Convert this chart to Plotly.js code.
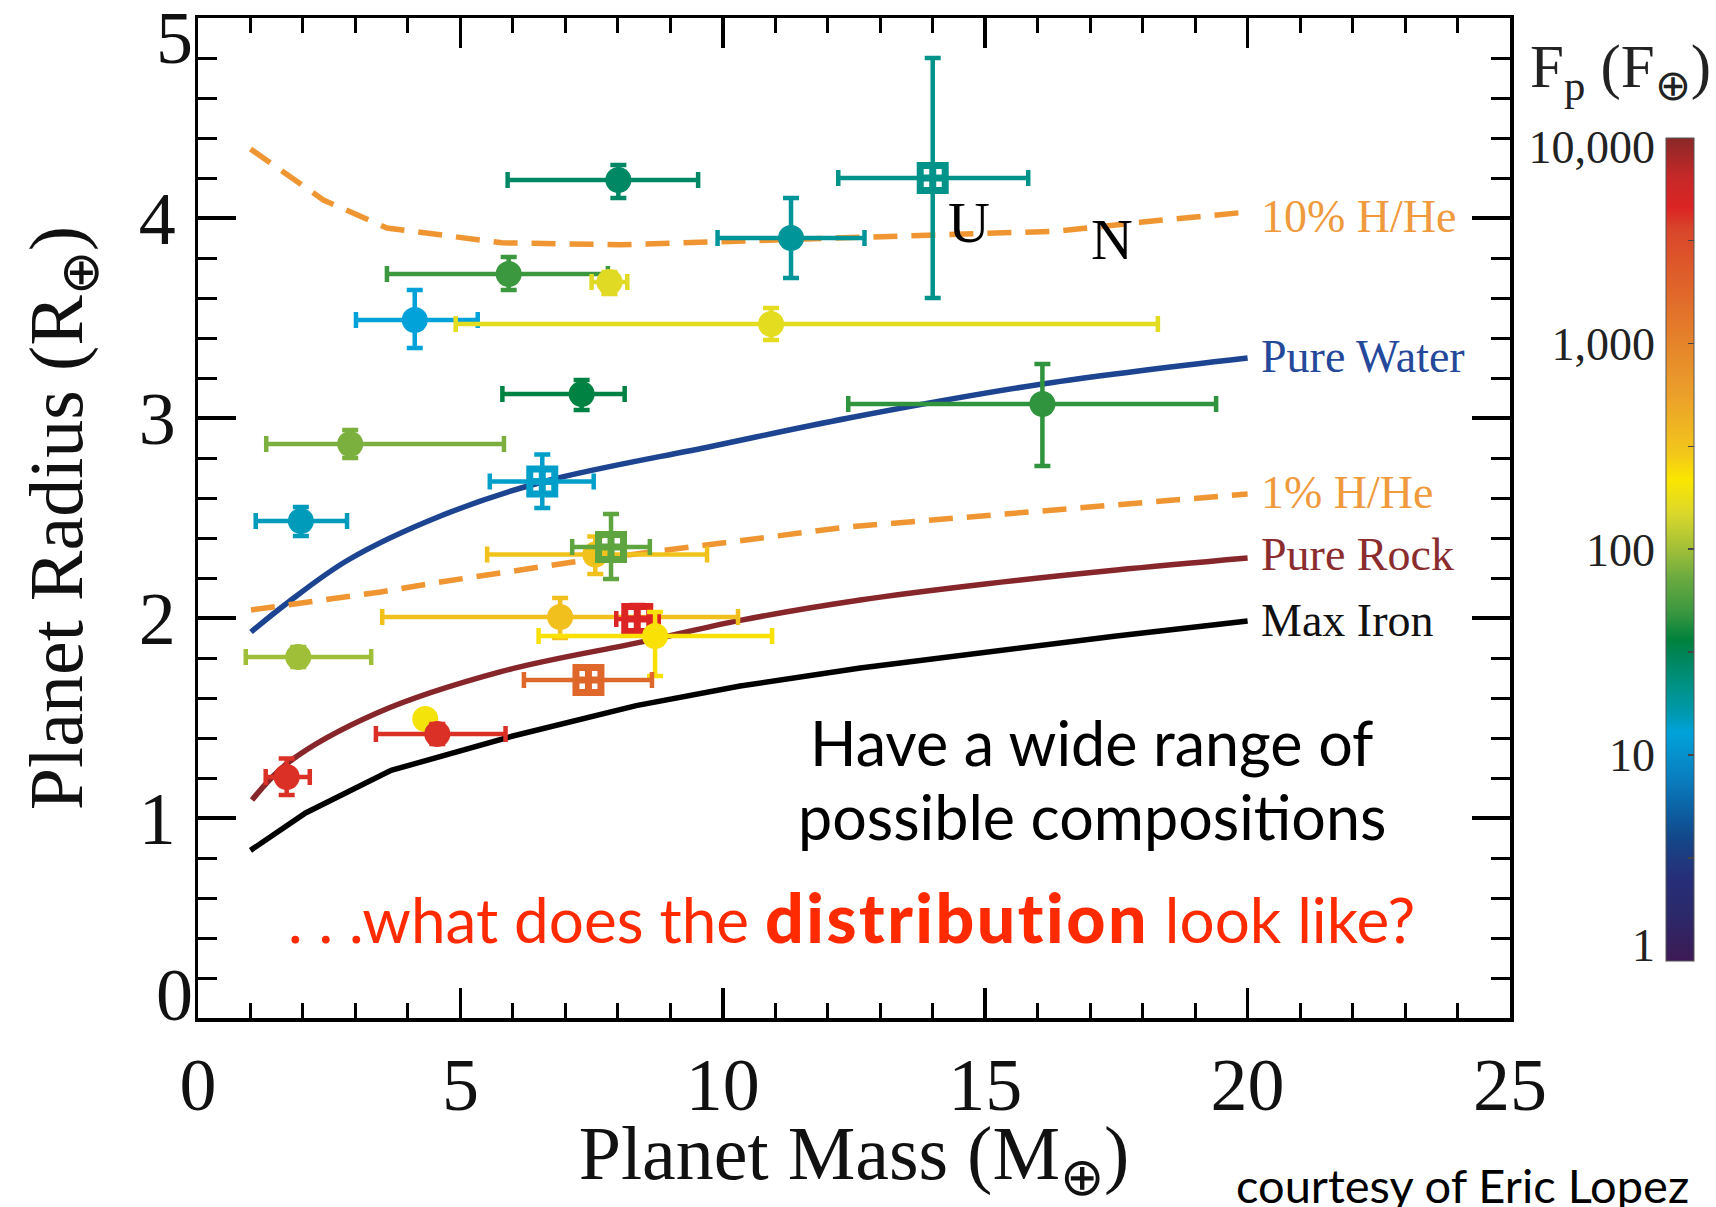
<!DOCTYPE html>
<html>
<head>
<meta charset="utf-8">
<script src="https://cdn.plot.ly/plotly-3.0.1.min.js"></script>
<style>html,body{margin:0;padding:0;background:#fff;}#chart{width:1716px;height:1207px;}</style>
</head>
<body>
<div id="chart"></div>
<script>
// ---------- DATA ----------
// planets (drawing order)
const mass        = [8.01, 14.0, 11.30, 5.92, 7.84, 4.13, 10.92, 7.31, 16.09, 2.90, 6.56, 1.96, 7.57, 7.87, 6.90, 8.37, 8.71, 1.91, 7.44, 4.33, 4.56, 1.69];
const massErrMinus= [2.11, 1.80, 1.40, 2.32, 0.34, 1.12, 6.01, 1.51, 3.70, 1.60, 1.00, 0.86, 2.06, 0.74, 3.39, 0.40, 2.22, 1.00, 1.23, 0.15, 1.17, 0.40];
const massErrPlus = [1.52, 1.82, 1.40, 1.89, 0.34, 1.20, 7.37, 0.82, 3.31, 2.93, 0.98, 0.88, 2.13, 0.74, 3.39, 0.41, 2.23, 1.39, 1.21, 0.15, 1.30, 0.44];
const radius      = [4.19, 4.20, 3.90, 3.72, 3.68, 3.49, 3.47, 3.12, 3.07, 2.87, 2.683, 2.485, 2.317, 2.355, 2.005, 1.995, 1.91, 1.805, 1.69, 1.495, 1.42, 1.205];
const radErrMinus = [0.09, 0.60, 0.20, 0.08, 0.06, 0.14, 0.08, 0.08, 0.31, 0.07, 0.133, 0.075, 0.097, 0.16, 0.105, 0.07, 0.20, 0.05, 0.06, 0.04, 0.05, 0.09];
const radErrPlus  = [0.075, 0.60, 0.20, 0.085, 0.05, 0.15, 0.08, 0.07, 0.20, 0.07, 0.134, 0.07, 0.09, 0.165, 0.095, 0.07, 0.12, 0.05, 0.06, 0.04, 0.05, 0.092];
const fluxFp      = [28, 21, 19, 50, 160, 13, 166, 35, 47, 80, 14, 15, 316, 66, 330, 4600, 230, 100, 1780, 200, 4200, 4200];
const openSquare  = [false, true, false, false, false, false, false, false, false, false, true, false, false, true, false, true, false, false, true, false, false, false];

// composition curves
const ironMass   = [1, 2.05, 3.68, 6, 8.35, 10.33, 12.62, 15, 17.5, 20];
const ironRad    = [0.838, 1.025, 1.238, 1.41, 1.562, 1.66, 1.75, 1.83, 1.91, 1.985];
const rockMass   = [1.03, 1.71, 3.41, 5.79, 8.51, 10.33, 12.62, 15, 17.5, 20];
const rockRad    = [1.09, 1.275, 1.525, 1.733, 1.883, 1.988, 2.09, 2.17, 2.24, 2.30];
const waterMass  = [1.01, 1.70, 2.86, 4.62, 6.56, 9.82, 12.4, 16.09, 20];
const waterRad   = [1.93, 2.075, 2.29, 2.51, 2.68, 2.86, 3.0, 3.17, 3.30];
const hhe1Mass   = [1.01, 3.48, 4.62, 7.15, 12.37, 16, 20];
const hhe1Rad    = [2.04, 2.13, 2.18, 2.28, 2.455, 2.535, 2.62];
const hhe10Mass  = [1.0, 2.39, 3.6, 5.79, 8.04, 9.81, 12, 14, 16.37, 18, 20];
const hhe10Rad   = [4.345, 4.09, 3.95, 3.876, 3.866, 3.88, 3.90, 3.92, 3.934, 3.98, 4.03];

const curveNames = ['10% H/He', 'Pure Water', '1% H/He', 'Pure Rock', 'Max Iron'];
const curveLabelY = [4.01, 3.31, 2.63, 2.32, 1.99];
const solarLetters = ['U', 'N'];
const solarMass = [14.70, 17.41];
const solarRad = [3.98, 3.895];

const fluxTickVals = [0, 0.5, 1, 1.5, 2, 2.5, 3, 3.5, 4];
const fluxTickText = ['', '', '10', '', '100', '', '1,000', '', ''];

// ---------- STYLE ----------
const colorscale = [
  [0.00, '#3d1a55'], [0.06, '#2b2a6c'], [0.10, '#262e78'], [0.125, '#1f3a80'],
  [0.15, '#12488a'], [0.18, '#0c5ea0'], [0.22, '#0a7dbe'], [0.25, '#0690cc'],
  [0.278, '#00a2da'], [0.30, '#0099b0'], [0.335, '#009285'], [0.37, '#00855a'],
  [0.39, '#00813c'], [0.425, '#3c983f'], [0.465, '#6aaa40'], [0.50, '#a0bf38'],
  [0.545, '#dcd82a'], [0.585, '#fbe600'], [0.615, '#f3c81a'], [0.685, '#eba12a'],
  [0.75, '#e5842b'], [0.83, '#df5f2a'], [0.89, '#d8452a'], [0.915, '#dc2424'],
  [0.95, '#c82828'], [1.00, '#8b2828']
];
function hex2rgb(h){return [parseInt(h.substr(1,2),16),parseInt(h.substr(3,2),16),parseInt(h.substr(5,2),16)];}
function scaleColor(v, cmin, cmax){
  let t = (v - cmin) / (cmax - cmin); t = Math.max(0, Math.min(1, t));
  for (let i = 1; i < colorscale.length; i++) {
    if (t <= colorscale[i][0]) {
      const a = colorscale[i-1], b = colorscale[i];
      const f = (t - a[0]) / (b[0] - a[0]);
      const ca = hex2rgb(a[1]), cb = hex2rgb(b[1]);
      return 'rgb(' + ca.map((c, k) => Math.round(c + (cb[k] - c) * f)).join(',') + ')';
    }
  }
  return colorscale[colorscale.length-1][1];
}

const serif = 'Liberation Serif, Times New Roman, serif';
const sans = 'Lato, Open Sans, sans-serif';
const orange = '#ef9633';
const DOM = 1312 / 1518;  // plot width / paper width
const CBX = (1666 - 198) / 1518; // colour bar left edge (paper)

const traces = [];
traces.push({x: hhe10Mass, y: hhe10Rad, mode: 'lines', line: {color: orange, width: 5.5, dash: '24px,14px'}});
traces.push({x: waterMass, y: waterRad, mode: 'lines', line: {color: '#1c4490', width: 5.5, shape: 'spline'}});
traces.push({x: hhe1Mass, y: hhe1Rad, mode: 'lines', line: {color: orange, width: 5.5, dash: '24px,14px'}});
traces.push({x: rockMass, y: rockRad, mode: 'lines', line: {color: '#87262a', width: 5.5, shape: 'spline'}});
traces.push({x: ironMass, y: ironRad, mode: 'lines', line: {color: '#000000', width: 5.5}});

for (let i = 0; i < mass.length; i++) {
  const lf = Math.log10(fluxFp[i]);
  const col = scaleColor(lf, 0, 4);
  const sq = openSquare[i];
  const t = {
    x: [mass[i]], y: [radius[i]], mode: 'markers',
    marker: {
      symbol: sq ? 'square-cross-open' : 'circle',
      size: sq ? 25 : 26,
      color: [lf], colorscale: colorscale, cmin: 0, cmax: 4,
      line: sq ? {width: 7, color: col} : {width: 0},
      showscale: false
    },
    error_x: {type: 'data', symmetric: false, array: [massErrPlus[i]], arrayminus: [massErrMinus[i]], color: col, thickness: 4.5, width: 8},
    error_y: {type: 'data', symmetric: false, array: [radErrPlus[i]], arrayminus: [radErrMinus[i]], color: col, thickness: 4.5, width: 8}
  };
  if (i === mass.length - 1) {
    t.marker.showscale = true;
    t.marker.colorbar = {
      x: CBX, xanchor: 'left', xpad: 0, y: 0.4688, yanchor: 'middle', ypad: 0,
      len: 823, lenmode: 'pixels', thickness: 28, thicknessmode: 'pixels',
      outlinewidth: 1, outlinecolor: '#555',
      tickvals: fluxTickVals, showticklabels: false,
      ticks: 'inside', ticklen: 6, tickwidth: 1.5, tickcolor: '#444'
    };
  }
  traces.push(t);
}

const annotations = [];
const labelColors = ['#ef9a3c', '#24489a', '#ef9a3c', '#8b2d2f', '#111111'];
for (let i = 0; i < curveNames.length; i++) {
  annotations.push({x: 20.22, y: curveLabelY[i], xref: 'x', yref: 'y', text: curveNames[i], showarrow: false,
    xanchor: 'left', yanchor: 'middle', font: {family: serif, size: 46, color: labelColors[i]}});
}
for (let i = 0; i < solarLetters.length; i++) {
  annotations.push({x: solarMass[i], y: solarRad[i], xref: 'x', yref: 'y', text: solarLetters[i], showarrow: false,
    xanchor: 'center', yanchor: 'middle', font: {family: serif, size: 58, color: '#000'}});
}
annotations.push({x: 17.03, y: 1.38, xref: 'x', yref: 'y', text: 'Have a wide range of', showarrow: false,
  xanchor: 'center', yanchor: 'middle', font: {family: sans, size: 61, color: '#000'}});
annotations.push({x: 17.03, y: 1.01, xref: 'x', yref: 'y', text: 'possible compositions', showarrow: false,
  xanchor: 'center', yanchor: 'middle', font: {family: sans, size: 61, color: '#000'}});
annotations.push({x: 12.46, y: 0.51, xref: 'x', yref: 'y',
  text: '. . .what does the <span style="font-weight:900;font-size:68px;letter-spacing:2.5px">distribution</span> look like?', showarrow: false,
  xanchor: 'center', yanchor: 'middle', font: {family: sans, size: 62, color: '#ff2a00'}});
annotations.push({x: (1691 - 198) / 1518, y: -0.167, xref: 'paper', yref: 'paper', text: 'courtesy of Eric Lopez', showarrow: false,
  xanchor: 'right', yanchor: 'middle', font: {family: sans, size: 47, color: '#000'}});
annotations.push({x: (1620 - 198) / 1518, y: 0.947, xref: 'paper', yref: 'paper', text: 'F<sub>p</sub> (F<sub>⊕</sub>)', showarrow: false,
  xanchor: 'center', yanchor: 'middle', font: {family: serif, size: 61, color: '#222'}});

const tickFont = {family: serif, size: 74, color: '#111'};
const cbFont = {family: serif, size: 46, color: '#222'};
const CBDOM = [(1018 - 961) / 1000, (1018 - 138) / 1000];
const layout = {
  width: 1716, height: 1207,
  margin: {l: 198, r: 0, t: 18, b: 189},
  paper_bgcolor: '#fff', plot_bgcolor: 'rgba(0,0,0,0)',
  showlegend: false, hovermode: false,
  xaxis: {
    domain: [0, DOM],
    range: [0, 25], showgrid: false, zeroline: false,
    showline: true, linecolor: '#000', linewidth: 3.5, mirror: 'ticks',
    ticks: 'inside', ticklen: 30, tickwidth: 3.5, tickcolor: '#000',
    tickvals: [0, 5, 10, 15, 20, 25],
    minor: {ticks: 'inside', ticklen: 15, tickwidth: 3, tickcolor: '#000', dtick: 1, showgrid: false},
    ticklabelstandoff: 0,
    tickfont: tickFont,
    title: {text: 'Planet Mass (M<sub>⊕</sub>)', font: {family: serif, size: 76, color: '#111'}, standoff: 24}
  },
  yaxis: {
    range: [0, 5], showgrid: false, zeroline: false,
    showline: true, linecolor: '#000', linewidth: 3.5, mirror: 'ticks',
    ticks: 'inside', ticklen: 38, tickwidth: 3.5, tickcolor: '#000',
    tickvals: [0, 1, 2, 3, 4, 5], ticktext: ['', '1', '2', '3', '4', ''],
    minor: {ticks: 'inside', ticklen: 19, tickwidth: 3, tickcolor: '#000', dtick: 0.2, showgrid: false},
    ticklabelstandoff: 4,
    tickfont: tickFont,
    title: {text: 'Planet Radius (R<sub>⊕</sub>)', font: {family: serif, size: 76, color: '#111'}, standoff: 32}
  },
  yaxis2: {
    overlaying: 'y', anchor: 'x', side: 'left', range: [0, 5], showgrid: false, zeroline: false,
    showline: false, ticks: '', tickvals: [0], ticktext: ['0'], ticklabelshift: -24, ticklabelstandoff: 4,
    ticklabeloverflow: 'allow', tickfont: tickFont
  },
  yaxis3: {
    overlaying: 'y', anchor: 'x', side: 'left', range: [0, 5], showgrid: false, zeroline: false,
    showline: false, ticks: '', tickvals: [5], ticktext: ['5'], ticklabelshift: 19, ticklabelstandoff: 4,
    ticklabeloverflow: 'allow', tickfont: tickFont
  },
  // hidden axis pair carrying the labels of the flux colour bar
  xaxis2: {domain: [CBX, CBX + 28 / 1518], range: [0, 1], visible: false, anchor: 'y4'},
  yaxis4: {
    domain: CBDOM, anchor: 'x2', side: 'left',
    range: [0, 4], showgrid: false, zeroline: false, showline: false,
    ticks: 'inside', ticklen: 6, tickwidth: 1.5, tickcolor: '#444',
    tickvals: fluxTickVals, ticktext: fluxTickText, ticklabelstandoff: 10,
    ticklabeloverflow: 'allow', tickfont: cbFont
  },
  yaxis5: {
    overlaying: 'y4', anchor: 'x2', side: 'left', range: [0, 4], showgrid: false, zeroline: false, showline: false,
    ticks: '', tickvals: [4], ticktext: ['10,000'], ticklabelshift: 9, ticklabelstandoff: 10,
    ticklabeloverflow: 'allow', tickfont: cbFont
  },
  yaxis6: {
    overlaying: 'y4', anchor: 'x2', side: 'left', range: [0, 4], showgrid: false, zeroline: false, showline: false,
    ticks: '', tickvals: [0], ticktext: ['1'], ticklabelshift: -16, ticklabelstandoff: 10,
    ticklabeloverflow: 'allow', tickfont: cbFont
  },
  annotations: annotations
};
// empty traces so the extra axes render
traces.push({x: [null], y: [null], yaxis: 'y2', mode: 'markers', showlegend: false});
traces.push({x: [null], y: [null], yaxis: 'y3', mode: 'markers', showlegend: false});
traces.push({x: [null], y: [null], xaxis: 'x2', yaxis: 'y4', mode: 'markers', showlegend: false});
traces.push({x: [null], y: [null], xaxis: 'x2', yaxis: 'y5', mode: 'markers', showlegend: false});
traces.push({x: [null], y: [null], xaxis: 'x2', yaxis: 'y6', mode: 'markers', showlegend: false});

Plotly.newPlot('chart', traces, layout, {staticPlot: true, displayModeBar: false});
</script>
</body>
</html>
